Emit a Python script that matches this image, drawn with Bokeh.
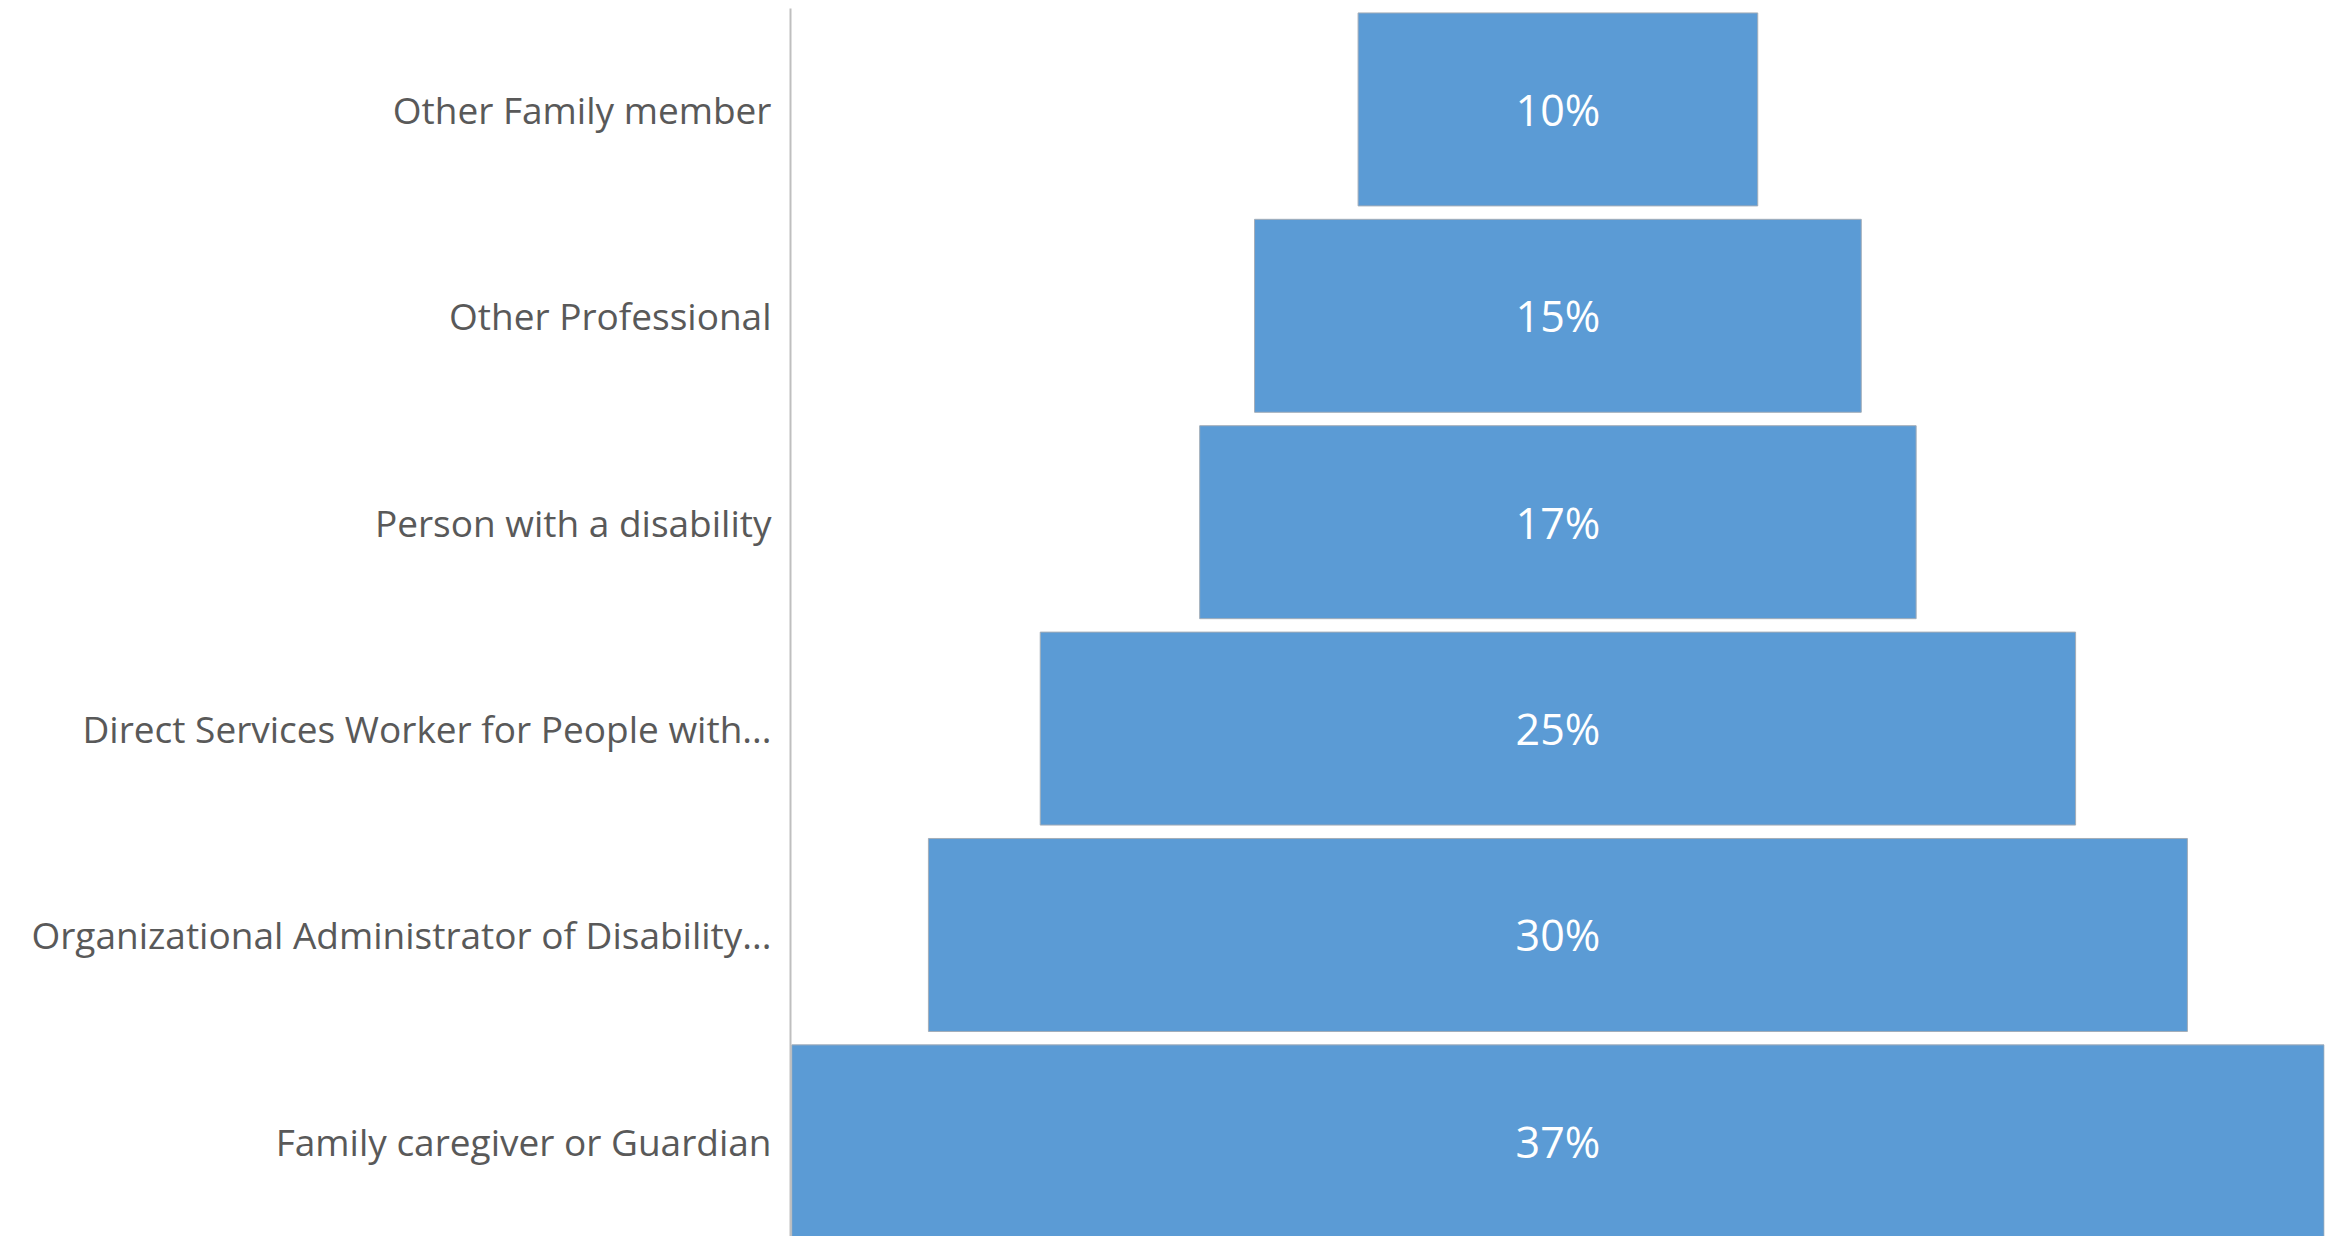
from bokeh.plotting import figure
from bokeh.models import Range1d, FixedTicker, ColumnDataSource
from bokeh.core.properties import value
from bokeh.embed import file_html
from bokeh.resources import INLINE

# Data (bottom to top)
categories = [
    "Family caregiver or Guardian",
    "Organizational Administrator of Disability...",
    "Direct Services Worker for People with...",
    "Person with a disability",
    "Other Professional",
    "Other Family member",
]
shares = [37.0, 30.4, 25.0, 17.3, 14.65, 9.65]  # percent
value_labels = [f"{round(v)}%" for v in shares]

idx = list(range(len(categories)))
src = ColumnDataSource(dict(
    y=idx,
    left=[-v / 2 for v in shares],
    right=[v / 2 for v in shares],
    label=value_labels,
))

half = max(shares) / 2
p = figure(
    width=2336, height=1236,
    output_backend="svg", toolbar_location=None,
    x_range=Range1d(-half - 0.03, half + 0.01),
    y_range=Range1d(-0.461, 5.489),
    x_axis_location=None,
    min_border_left=790, min_border_right=12,
    min_border_top=8, min_border_bottom=0,
)
p.outline_line_color = None
p.grid.visible = False
p.background_fill_color = "white"
p.border_fill_color = "white"

p.hbar(y="y", left="left", right="right", height=0.935, source=src,
       fill_color="#5B9BD5", line_color="#A3ADB8", line_width=1)

p.text(x=0, y="y", text="label", source=src,
       text_align="center", text_baseline="middle",
       text_color="white", text_font=value("Open Sans"),
       text_font_size="43px")

ax = p.yaxis[0]
ax.ticker = FixedTicker(ticks=idx)
ax.major_label_overrides = {i: c for i, c in enumerate(categories)}
ax.major_tick_line_color = None
ax.minor_tick_line_color = None
ax.axis_line_color = "#BFBFBF"
ax.axis_line_width = 2
ax.major_label_text_font = "Open Sans"
ax.major_label_text_font_size = "37px"
ax.major_label_text_color = "#595959"
ax.major_label_standoff = 13

open("out.html", "w").write(file_html(p, INLINE))
